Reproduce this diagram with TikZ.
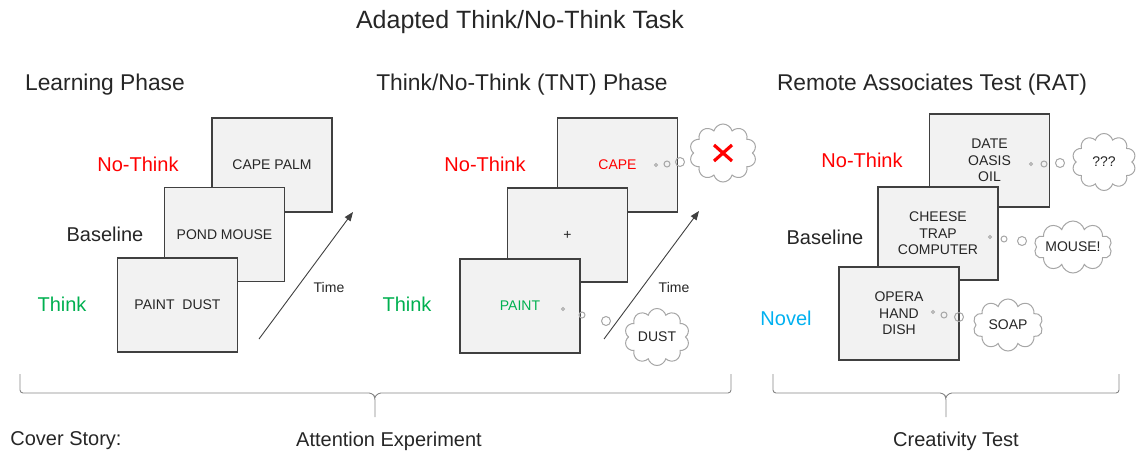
\documentclass[tikz,border=0pt]{standalone}
\usepackage{fontspec}
\setmainfont{Liberation Sans}
\usetikzlibrary{shapes.symbols,arrows.meta}
\definecolor{ink}{HTML}{262626}
\definecolor{frame}{HTML}{404040}
\definecolor{screen}{HTML}{F2F2F2}
\definecolor{bub}{HTML}{A6A6A6}
\definecolor{ntred}{HTML}{FF0000}
\definecolor{tgreen}{HTML}{00B050}
\definecolor{novblue}{HTML}{00B0F0}
\tikzset{
  screenbox/.style={draw=frame,line width=1.2pt,fill=screen,minimum width=120pt,
    minimum height=94pt,inner sep=0pt,align=center,text=ink,font=\fontsize{14}{16.5}\selectfont},
  heading/.style={text=ink,font=\fontsize{22.8}{27}\selectfont},
  condlabel/.style={font=\fontsize{20}{24}\selectfont},
  thought/.style={draw=bub,line width=1pt,fill=white,cloud,cloud puffs=10,cloud ignores aspect,
    inner sep=0pt,text=ink,font=\fontsize{14}{16.5}\selectfont},
  dot/.style={draw=bub,line width=1pt},
  timearrow/.style={draw=frame,line width=0.9pt,-{Triangle[length=9pt,width=7pt]}},
  bracket/.style={draw=bub!80!black,line width=0.9pt,rounded corners=3pt}
}
\begin{document}
\begin{tikzpicture}[x=1pt,y=-1pt]
        \useasboundingbox (0,0) rectangle (1137,455);
        % headings
        \node[heading,font=\fontsize{25}{30}\selectfont] (title) at (520,22) {Adapted Think/No-Think Task};
        \node[heading] (learnhead) at (105,85) {Learning Phase};
        \node[heading] (tnthead) at (522,85) {Think/No-Think (TNT) Phase};
        \node[heading] (rathead) at (932,85) {Remote Associates Test (RAT)};
        % learning phase
        \node[screenbox] (lpNo) at (272,165) {CAPE PALM};
        \node[screenbox] (lpBase) at (224.5,234.5) {POND MOUSE};
        \node[screenbox] (lpThink) at (177.5,305) {PAINT\ \ DUST};
        \node[condlabel,text=ntred] (lpNoLab) at (138,164) {No-Think};
        \node[condlabel,text=ink] (lpBaseLab) at (105,234) {Baseline};
        \node[condlabel,text=tgreen] (lpThinkLab) at (62,304) {Think};
        \coordinate (lpT0) at (259,339);
        \coordinate (lpT1) at (353,212);
        \draw[timearrow] (lpT0) -- (lpT1);
        \node[text=ink,font=\fontsize{14}{16.5}\selectfont] (lpTime) at (329,287) {Time};
        % TNT phase
        \node[screenbox,text=ntred] (tntNo) at (617.5,165) {CAPE};
        \node[screenbox] (tntBase) at (567.5,235) {+};
        \node[screenbox,text=tgreen] (tntThink) at (520,306) {PAINT};
        \node[condlabel,text=ntred] (tntNoLab) at (485,164) {No-Think};
        \node[condlabel,text=tgreen] (tntThinkLab) at (407,304) {Think};
        \coordinate (tntT0) at (604,339);
        \coordinate (tntT1) at (699,211);
        \draw[timearrow] (tntT0) -- (tntT1);
        \node[text=ink,font=\fontsize{14}{16.5}\selectfont] (tntTime) at (674,287) {Time};
        \draw[dot] (656,165) circle (1.5) (667,164) circle (3) (680,162) circle (4.5);
        \node[thought,minimum width=67pt,minimum height=58pt] (tntNoCloud) at (723,153) {};
        \draw[ntred,line width=3.2pt] ([shift={(-9,-8)}]tntNoCloud.center) -- ([shift={(9,8)}]tntNoCloud.center)
          ([shift={(-9,8)}]tntNoCloud.center) -- ([shift={(9,-8)}]tntNoCloud.center);
        \draw[dot] (563,309) circle (1.5) (582,315) circle (3) (606,321) circle (4.5);
        \node[thought,minimum width=65pt,minimum height=57pt] (tntThinkCloud) at (657,337) {DUST};
        % RAT
        \node[screenbox,minimum height=93pt] (ratNo) at (989.5,160.5) {DATE\\OASIS\\OIL};
        \node[screenbox,minimum height=93pt] (ratBase) at (938,233.5) {CHEESE\\TRAP\\COMPUTER};
        \node[screenbox,minimum height=93pt] (ratNovel) at (899,313.5) {OPERA\\HAND\\DISH};
        \node[condlabel,text=ntred] (ratNoLab) at (862,160) {No-Think};
        \node[condlabel,text=ink] (ratBaseLab) at (825,237) {Baseline};
        \node[condlabel,text=novblue] (ratNovelLab) at (786,318) {Novel};
        \draw[dot] (1031,164) circle (1.5) (1044,164) circle (3) (1060,163) circle (4.5);
        \node[thought,minimum width=64pt,minimum height=57pt] (ratNoCloud) at (1104,162) {???};
        \draw[dot] (990,237) circle (1.5) (1004,239) circle (3) (1022,241) circle (4.5);
        \node[thought,minimum width=78pt,minimum height=52pt] (ratBaseCloud) at (1073,247) {MOUSE!};
        \draw[dot] (933,312) circle (1.5) (944,315) circle (3) (959,317) circle (4.5);
        \node[thought,minimum width=70pt,minimum height=52pt] (ratNovelCloud) at (1008,325) {SOAP};
        % brackets
        \draw[bracket] (20,374) |- (372,393) -- (375,397) -- (375,417);
        \draw[bracket] (731,374) |- (378,393) -- (375,397);
        \draw[bracket] (773,374) |- (943,393) -- (946,397) -- (946,417);
        \draw[bracket] (1119,374) |- (949,393) -- (946,397);
        % cover story
        \node[heading,font=\fontsize{20}{24}\selectfont] (cover) at (66,441) {Cover Story:};
        \node[heading,font=\fontsize{20}{24}\selectfont] (attn) at (389,441) {Attention Experiment};
        \node[heading,font=\fontsize{20}{24}\selectfont] (creat) at (956,441) {Creativity Test};
\end{tikzpicture}
\end{document}
